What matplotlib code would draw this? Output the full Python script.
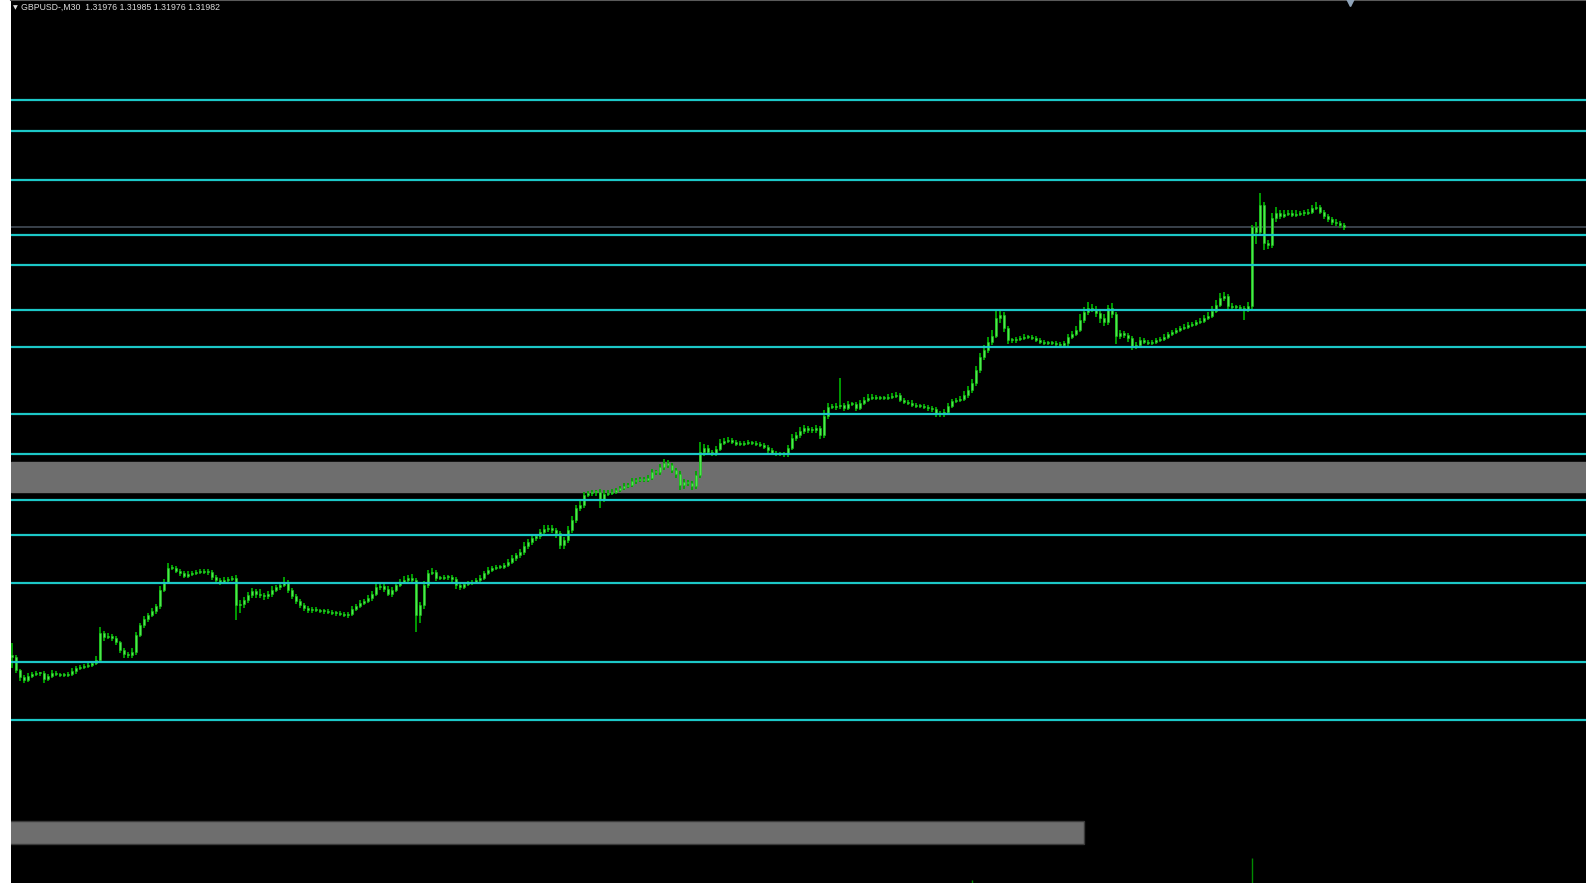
import matplotlib.pyplot as plt
import numpy as np
from matplotlib.patches import Rectangle

# GBPUSD M30 closes
closes = [
    1.2768, 1.2755, 1.2748, 1.2745, 1.2749, 1.2751, 1.2752, 1.2752, 1.2746, 1.2749,
    1.2752, 1.2751, 1.2750, 1.2750, 1.2751, 1.2754, 1.2757, 1.2758, 1.2759, 1.2760,
    1.2762, 1.2765, 1.2792, 1.2788, 1.2789, 1.2787, 1.2783, 1.2775, 1.2771, 1.2770,
    1.2773, 1.2790, 1.2800, 1.2806, 1.2810, 1.2814, 1.2819, 1.2835, 1.2843, 1.2857,
    1.2857, 1.2854, 1.2852, 1.2849, 1.2851, 1.2852, 1.2853, 1.2853, 1.2854, 1.2853,
    1.2848, 1.2845, 1.2843, 1.2845, 1.2846, 1.2847, 1.2820, 1.2821, 1.2825, 1.2830,
    1.2834, 1.2831, 1.2830, 1.2829, 1.2831, 1.2835, 1.2838, 1.2840, 1.2843, 1.2835,
    1.2829, 1.2824, 1.2820, 1.2817, 1.2815, 1.2816, 1.2815, 1.2814, 1.2814, 1.2813,
    1.2812, 1.2812, 1.2811, 1.2810, 1.2811, 1.2816, 1.2819, 1.2822, 1.2824, 1.2827,
    1.2831, 1.2838, 1.2839, 1.2836, 1.2831, 1.2835, 1.2840, 1.2843, 1.2845, 1.2847,
    1.2845, 1.2810, 1.2820, 1.2840, 1.2852, 1.2853, 1.2847, 1.2847, 1.2848, 1.2848,
    1.2846, 1.2840, 1.2838, 1.2841, 1.2842, 1.2843, 1.2845, 1.2847, 1.2852, 1.2855,
    1.2857, 1.2858, 1.2858, 1.2860, 1.2863, 1.2867, 1.2870, 1.2873, 1.2879, 1.2883,
    1.2887, 1.2889, 1.2893, 1.2896, 1.2897, 1.2895, 1.2892, 1.2880, 1.2885, 1.2895,
    1.2905, 1.2917, 1.2920, 1.2930, 1.2932, 1.2933, 1.2933, 1.2925, 1.2931, 1.2932,
    1.2933, 1.2935, 1.2937, 1.2939, 1.2940, 1.2944, 1.2945, 1.2946, 1.2945, 1.2947,
    1.2953, 1.2953, 1.2958, 1.2962, 1.2960, 1.2955, 1.2951, 1.2940, 1.2943, 1.2942,
    1.2939, 1.2950, 1.2973, 1.2977, 1.2973, 1.2972, 1.2976, 1.2982, 1.2984, 1.2985,
    1.2983, 1.2981, 1.2981, 1.2982, 1.2982, 1.2982, 1.2981, 1.2980, 1.2978, 1.2975,
    1.2972, 1.2971, 1.2971, 1.2971, 1.2977, 1.2987, 1.2990, 1.2994, 1.2997, 1.2995,
    1.2995, 1.2997, 1.2990, 1.3009, 1.3018, 1.3018, 1.3019, 1.3020, 1.3017, 1.3021,
    1.3021, 1.3017, 1.3022, 1.3025, 1.3027, 1.3028, 1.3027, 1.3027, 1.3027, 1.3028,
    1.3029, 1.3030, 1.3025, 1.3023, 1.3022, 1.3020, 1.3019, 1.3019, 1.3018, 1.3017,
    1.3016, 1.3012, 1.3011, 1.3013, 1.3019, 1.3024, 1.3025, 1.3026, 1.3030, 1.3035,
    1.3042, 1.3055, 1.3068, 1.3075, 1.3083, 1.3089, 1.3107, 1.3110, 1.3097, 1.3085,
    1.3085, 1.3086, 1.3087, 1.3088, 1.3088, 1.3087, 1.3085, 1.3083, 1.3082, 1.3082,
    1.3082, 1.3081, 1.3080, 1.3082, 1.3088, 1.3091, 1.3095, 1.3105, 1.3113, 1.3117,
    1.3116, 1.3112, 1.3107, 1.3103, 1.3117, 1.3111, 1.3089, 1.3092, 1.3090, 1.3087,
    1.3079, 1.3080, 1.3085, 1.3083, 1.3082, 1.3083, 1.3085, 1.3086, 1.3088, 1.3091,
    1.3093, 1.3095, 1.3097, 1.3098, 1.3100, 1.3101, 1.3103, 1.3104, 1.3107, 1.3109,
    1.3114, 1.3120, 1.3127, 1.3129, 1.3119, 1.3118, 1.3118, 1.3117, 1.3116, 1.3119,
    1.3198, 1.3193, 1.3220, 1.3182, 1.3180, 1.3207, 1.3212, 1.3209, 1.3211, 1.3212,
    1.3210, 1.3211, 1.3212, 1.3212, 1.3213, 1.3217, 1.3218, 1.3213, 1.3209, 1.3206,
    1.3203, 1.3202, 1.3200, 1.31982,
]
first_open = 1.2770

# wick length above / below the body, in pips
wick_up = [
    12, 2, 1, 2, 3, 2, 2, 1, 2, 2, 3, 2, 1, 2, 2, 3, 2, 2, 2, 3,
    2, 4, 6, 2, 3, 2, 2, 1, 2, 2, 4, 3, 2, 3, 2, 3, 2, 4, 3, 5,
    3, 2, 2, 2, 3, 2, 2, 3, 2, 2, 2, 2, 2, 3, 2, 2, 3, 4, 3, 3,
    3, 2, 5, 2, 3, 4, 2, 3, 5, 2, 2, 2, 2, 2, 2, 2, 2, 1, 2, 2,
    2, 2, 2, 2, 2, 3, 2, 3, 2, 3, 3, 4, 3, 2, 3, 3, 3, 3, 4, 3,
    4, 2, 3, 4, 3, 4, 2, 2, 2, 2, 2, 2, 3, 2, 2, 2, 2, 3, 2, 3,
    2, 2, 2, 2, 3, 3, 2, 3, 4, 3, 3, 2, 3, 4, 3, 3, 2, 2, 3, 4,
    4, 3, 4, 3, 2, 2, 2, 3, 4, 3, 3, 2, 2, 3, 2, 3, 2, 2, 2, 3,
    3, 2, 3, 4, 3, 2, 2, 3, 3, 2, 2, 4, 10, 4, 3, 2, 3, 4, 3, 3,
    2, 2, 3, 2, 3, 2, 2, 2, 2, 2, 2, 2, 2, 2, 3, 4, 3, 4, 3, 2,
    3, 3, 2, 6, 4, 3, 3, 27, 2, 3, 2, 2, 3, 3, 4, 3, 2, 2, 2, 3,
    3, 3, 2, 2, 2, 3, 2, 2, 2, 2, 2, 2, 2, 3, 3, 2, 2, 3, 4, 4,
    4, 4, 4, 5, 5, 6, 8, 5, 3, 2, 2, 2, 2, 3, 2, 2, 2, 2, 2, 2,
    2, 2, 2, 2, 3, 3, 4, 6, 5, 6, 4, 3, 3, 4, 3, 5, 2, 3, 2, 2,
    2, 3, 3, 2, 2, 2, 2, 2, 3, 2, 2, 2, 2, 3, 3, 2, 2, 3, 3, 4,
    5, 5, 5, 4, 2, 3, 2, 2, 2, 4, 2, 5, 12, 3, 3, 5, 6, 3, 4, 3,
    3, 4, 2, 3, 3, 3, 5, 2, 2, 2, 2, 3, 2, 2,
]
wick_dn = [
    11, 3, 4, 3, 2, 2, 2, 3, 4, 2, 2, 2, 2, 2, 2, 2, 3, 2, 2, 2,
    2, 2, 3, 4, 2, 3, 3, 3, 4, 3, 3, 3, 2, 3, 3, 2, 3, 3, 2, 2,
    2, 2, 3, 2, 2, 2, 2, 2, 2, 3, 3, 2, 3, 2, 2, 2, 15, 8, 4, 3,
    3, 4, 3, 4, 3, 3, 2, 3, 2, 3, 3, 3, 3, 3, 3, 3, 2, 2, 3, 2,
    2, 3, 2, 2, 3, 2, 2, 2, 2, 2, 3, 2, 3, 3, 2, 3, 2, 2, 2, 2,
    2, 17, 8, 4, 3, 2, 3, 2, 2, 3, 3, 4, 3, 2, 2, 2, 2, 2, 2, 2,
    2, 2, 2, 2, 2, 2, 3, 3, 3, 3, 3, 3, 3, 2, 3, 3, 5, 4, 4, 3,
    3, 3, 3, 3, 2, 3, 4, 8, 2, 2, 2, 2, 2, 2, 2, 2, 3, 2, 2, 2,
    2, 3, 3, 3, 3, 3, 4, 5, 4, 3, 4, 3, 3, 4, 3, 3, 3, 2, 2, 2,
    2, 2, 2, 2, 2, 2, 2, 2, 2, 3, 2, 2, 2, 3, 3, 2, 3, 3, 3, 3,
    3, 3, 4, 3, 3, 2, 3, 3, 3, 2, 2, 3, 2, 2, 2, 2, 2, 2, 2, 2,
    2, 2, 2, 2, 2, 2, 2, 2, 2, 3, 3, 4, 3, 3, 2, 2, 2, 2, 2, 3,
    3, 3, 3, 3, 3, 3, 2, 5, 4, 4, 3, 3, 2, 2, 2, 2, 2, 2, 2, 2,
    2, 2, 2, 3, 3, 2, 2, 2, 3, 3, 3, 4, 5, 4, 3, 4, 8, 3, 3, 4,
    4, 3, 2, 2, 2, 2, 2, 2, 2, 2, 2, 2, 2, 2, 2, 2, 2, 2, 2, 2,
    2, 2, 2, 3, 3, 3, 3, 3, 11, 3, 3, 12, 4, 7, 4, 3, 4, 3, 2, 2,
    2, 2, 2, 3, 2, 2, 2, 2, 3, 3, 3, 3, 3, 3,
]

# horizontal levels drawn on the chart
levels = [1.3325, 1.32945, 1.32447, 1.3190, 1.31605, 1.3115, 1.3078,
          1.3011, 1.2971, 1.2925, 1.2890, 1.2842, 1.2763, 1.2705]
bid = 1.31982
zone_upper = (1.2933, 1.2963)
zone_lower = (1.2581, 1.2604)
zone_lower_end = 268

# volume bars peeking in at the bottom edge
vol_bars = [240, 310]
vol_tops = [1.2545, 1.2567]

title = "GBPUSD-,M30  1.31976 1.31985 1.31976 1.31982"

PRICE_TOP = 1.3425
PRICE_BOTTOM = 1.2542


def main():
    n = len(closes)
    assert len(wick_up) == n and len(wick_dn) == n
    c = np.array(closes)
    o = np.array([first_open] + closes[:-1])
    top = np.maximum(o, c)
    bot = np.minimum(o, c)
    hi = top + np.array(wick_up) * 0.0001
    lo = bot - np.array(wick_dn) * 0.0001
    x = np.arange(n)

    fig = plt.figure(figsize=(15.86, 8.83), dpi=100, facecolor="white")
    ax = fig.add_axes([11 / 1586, 0, 1575 / 1586, 1])
    ax.set_facecolor("black")
    ax.set_xlim(-0.25, 393.5)
    ax.set_ylim(PRICE_BOTTOM, PRICE_TOP)
    ax.set_xticks([])
    ax.set_yticks([])
    for side in ["left", "right", "bottom"]:
        ax.spines[side].set_visible(False)
    ax.spines["top"].set_color("#5a5a5a")
    ax.spines["top"].set_linewidth(1.5)

    # gray zones
    ax.axhspan(*zone_upper, color="#6e6e6e", zorder=1)
    ax.add_patch(Rectangle((-5, zone_lower[0]), zone_lower_end + 5,
                           zone_lower[1] - zone_lower[0],
                           facecolor="#6e6e6e", edgecolor="#3a3a3a",
                           linewidth=1, zorder=1))

    # bid line
    ax.axhline(bid, color="#3e4650", linewidth=1.3, zorder=2)

    # candles
    ax.vlines(x, lo, hi, color="#00a800", linewidth=1.3, zorder=3)
    heights = np.maximum(top - bot, 0.0001)
    ax.bar(x, heights, bottom=bot, width=0.7, color="#4ee84e",
           edgecolor="#1fc41f", linewidth=0.4, zorder=4)

    # levels
    for lv in levels:
        ax.axhline(lv, color="#1cc8c8", linewidth=1.6, zorder=5)

    # volume
    ax.vlines(vol_bars, PRICE_BOTTOM, vol_tops, color="#008a00",
              linewidth=1.0, zorder=3)

    # header
    ax.text(0.0012, 0.9915, "\u25bc", transform=ax.transAxes, fontsize=4.5,
            color="#e0e0e0", va="center", ha="left")
    ax.text(0.0065, 0.9915, title, transform=ax.transAxes, fontsize=6.3,
            family="Liberation Sans", color="#dcdcdc", va="center", ha="left")

    # chart shift marker
    ax.plot([(1350 - 12) / 4], [PRICE_TOP - 0.0002], marker="v", markersize=6,
            color="#8fa3b8", clip_on=False, zorder=6)

    fig.savefig("out.png", dpi=100, facecolor="white")
    plt.close(fig)


if __name__ == "__main__":
    main()
